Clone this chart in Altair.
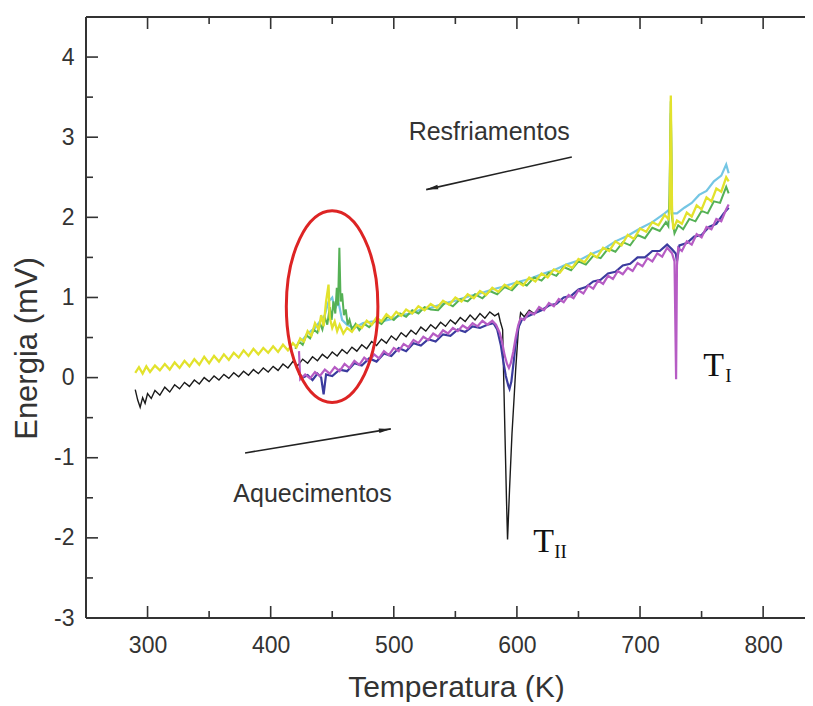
import altair as alt
import pandas as pd

# ---------------- data ----------------
X_TICKS = [300, 400, 500, 600, 700, 800]
X_MINOR = [350, 450, 550, 650, 750]
Y_TICKS = [-3, -2, -1, 0, 1, 2, 3, 4]
Y_MINOR = [-2.5, -1.5, -0.5, 0.5, 1.5, 2.5, 3.5]

# cooling (Resfriamentos) – yellow
yT = [290,293,296,299,302,306,310,314,318,322,326,330,334,338,342,346,350,354,358,362,366,370,374,378,382,386,390,394,398,402,406,410,414,418,
      421,424,427,430,433,436,439,441,443,445,447,448,450,452,454,456,459,462,
      466,470,474,478,482,486,490,494,498,502,506,510,
      515,520,525,530,535,540,545,550,555,560,565,570,575,580,585,590,595,600,605,610,615,620,625,630,635,640,645,650,655,660,665,670,675,680,685,690,695,700,705,710,715,720,
      723,724,725,726,727,730,734,738,742,746,750,754,758,762,766,770,772]
yE = [0.06,0.13,0.05,0.14,0.07,
      0.15,0.09,0.17,0.10,0.19,0.12,0.21,0.14,0.23,0.16,0.26,0.18,0.27,0.20,0.29,0.22,0.31,0.25,0.34,0.27,0.36,0.29,0.37,0.31,0.39,0.32,0.41,0.34,0.43,
      0.38,0.49,0.45,0.58,0.52,0.68,0.60,
      0.78,0.64,0.95,1.16,0.75,0.62,0.70,0.58,0.66,
      0.55,0.62,
      0.57,0.66,0.62,0.71,0.66,0.75,0.70,0.79,0.74,0.82,0.77,0.85,
      0.80,0.89,0.84,0.92,0.87,0.96,0.91,1.00,0.95,1.04,0.99,1.08,1.03,1.12,1.07,1.16,1.11,1.20,1.15,1.25,1.20,1.30,1.25,1.35,1.31,1.41,1.37,1.48,1.44,1.55,1.50,1.62,1.58,1.70,1.65,1.78,1.73,1.86,1.82,1.94,1.90,2.03,
      1.98,2.05,3.52,2.10,1.85,1.96,
      1.92,2.06,2.01,2.15,2.10,2.25,2.20,2.36,2.32,2.50,2.45]

# cooling – green
gT = [420,423,426,429,432,435,438,440,442,444,446,448,
      449.5,451,452.5,453.7,454.7,455.8,456.8,458,459.5,461,462.5,464,
      466,469,472,476,480,485,490,495,500,505,510,515,520,525,530,
      536,542,548,554,560,566,572,578,584,590,596,602,608,614,620,626,632,638,644,650,656,662,668,674,680,686,692,698,704,710,716,
      721,723,724,725,726,728,731,735,740,745,750,755,760,765,770,772]
gE = [0.36,0.45,0.41,0.53,0.49,0.60,0.56,0.68,0.60,0.75,0.66,0.88,
      0.72,0.95,0.80,1.12,0.90,1.62,0.95,1.05,0.78,0.85,0.66,0.72,
      0.60,0.67,0.59,0.67,0.63,0.71,0.67,0.76,0.72,0.80,0.76,0.84,0.80,0.88,0.85,
      0.84,0.94,0.89,0.98,0.95,1.04,0.99,1.08,1.04,1.13,1.09,1.19,1.15,1.25,1.21,1.31,1.27,1.38,1.34,1.45,1.41,1.52,1.49,1.61,1.57,1.69,1.65,1.78,1.74,1.87,1.83,
      1.94,1.89,2.30,3.45,2.00,1.80,1.90,1.85,1.98,1.95,2.08,2.05,2.20,2.18,2.38,2.30]

# cooling – light blue
cT = [425,430,436,440,444,447,450,452,455,458,462,468,475,482,490,498,506,514,522,530,
      540,550,560,570,580,590,600,610,620,630,640,650,660,670,680,690,700,710,720,
      724,725,726,730,736,742,748,754,760,766,770,772]
cE = [0.45,0.55,0.62,0.70,0.78,0.95,1.00,0.85,0.95,0.72,0.66,0.62,0.68,0.70,0.70,0.73,0.78,0.80,0.85,0.87,
      0.92,0.96,1.01,1.05,1.10,1.14,1.19,1.23,1.29,1.34,1.41,1.46,1.54,1.60,1.70,1.77,1.86,1.94,2.05,
      2.10,3.30,2.05,2.05,2.12,2.18,2.28,2.33,2.45,2.52,2.66,2.55]

# heating (Aquecimentos) – black
kT = [290,292,294,296,298,300,303,
      306,310,314,318,322,326,330,334,338,342,346,350,354,358,362,366,370,374,378,382,386,390,394,398,402,406,410,414,418,422,426,430,434,438,
      442,446,450,454,458,462,466,470,474,478,482,486,490,494,498,502,506,510,514,518,522,526,530,534,538,542,546,550,554,558,562,566,570,574,578,582,
      585,586.5,588.4,590,591.5,592.4,594,596,597.8,599,601,603,606,610,614,618,622]
kE = [-0.15,-0.28,-0.37,-0.25,-0.32,-0.20,-0.26,
      -0.16,-0.22,-0.12,-0.18,-0.09,-0.14,-0.06,-0.11,-0.03,-0.08,
      0.00,-0.05,0.02,-0.03,0.04,-0.01,0.06,0.01,0.08,0.03,
      0.10,0.05,0.12,0.07,0.14,0.09,0.17,0.12,0.20,0.15,
      0.23,0.18,0.26,0.21,0.29,0.24,0.32,0.27,0.35,0.30,
      0.38,0.33,0.41,0.36,0.45,0.40,0.48,0.43,0.52,0.47,
      0.56,0.51,0.59,0.54,0.63,0.58,0.66,0.61,0.69,0.64,
      0.72,0.67,0.75,0.70,0.78,0.72,0.80,0.74,0.82,0.77,
      0.80,0.70,0.60,-0.50,-1.50,-2.02,-1.40,-0.70,-0.23,0.10,0.55,0.81,
      0.76,0.84,0.80,0.86,0.85]

# heating – magenta
mT = [423,424,
      428,432,436,440,444,448,452,456,460,464,468,472,476,480,484,488,492,496,500,504,508,512,516,520,524,528,532,536,540,544,548,552,556,560,564,568,572,576,580,
      583,586,588,590,592,593.5,595,597,599,601,603,606,
      610,614,618,622,626,630,634,638,642,646,650,654,658,662,666,670,674,678,682,686,690,694,698,702,706,710,714,718,722,726,
      728,729.3,730,731,734,738,742,746,750,754,758,762,766,770,772]
mE = [0.33,-0.02,
      0.04,-0.01,0.07,0.02,0.10,0.05,0.13,0.08,0.17,0.12,
      0.21,0.16,0.25,0.20,0.29,0.24,0.33,0.28,0.37,0.33,
      0.42,0.38,0.47,0.43,0.51,0.47,0.55,0.51,0.59,0.55,
      0.62,0.58,0.65,0.61,0.68,0.64,0.71,0.66,0.71,
      0.66,0.56,0.44,0.28,0.17,0.12,0.18,0.32,0.50,0.65,0.74,0.72,
      0.82,0.79,0.88,0.84,0.93,0.89,0.98,0.94,1.03,0.99,
      1.09,1.05,1.15,1.11,1.21,1.17,1.27,1.23,1.33,1.29,
      1.37,1.33,1.43,1.39,1.49,1.45,1.55,1.51,1.62,1.55,
      1.45,-0.02,1.40,1.62,1.58,1.70,1.66,1.79,1.75,1.88,1.85,1.98,1.95,2.10,2.16]

# heating – dark blue
bT = [423,426,430,434,438,441,443,445,450,
      456,462,468,474,480,486,492,498,504,510,516,522,528,534,540,546,552,558,564,570,576,
      581,584,587,589,591,593,594,595.5,597,599,601,604,608,
      614,620,626,632,638,644,650,656,662,668,674,680,686,692,698,704,710,716,722,
      726,729,730,732,738,744,750,756,762,768,772]
bE = [0.05,0.00,0.03,-0.03,0.05,0.00,-0.21,0.04,0.02,
      0.10,0.08,0.18,0.15,0.24,0.20,0.30,0.27,0.37,0.33,0.43,0.40,0.48,0.45,0.54,0.52,0.60,0.57,0.64,0.62,0.66,
      0.68,0.60,0.40,0.20,0.02,-0.10,-0.14,-0.05,0.15,0.42,0.62,0.72,0.76,
      0.80,0.84,0.90,0.92,1.00,1.02,1.10,1.13,1.20,1.22,1.30,1.32,1.40,1.42,1.50,1.50,1.58,1.58,1.66,
      1.60,1.55,1.45,1.65,1.68,1.76,1.78,1.88,1.92,2.05,2.12]

SERIES = [
    ("black", kT, kE, "#1a1a1a", 1.4),
    ("blue", bT, bE, "#3b3b9e", 2.2),
    ("magenta", mT, mE, "#b65cc4", 2.2),
    ("cyan", cT, cE, "#74c6e4", 2.2),
    ("green", gT, gE, "#55b155", 2.0),
    ("yellow", yT, yE, "#e2e22c", 2.3),
]

# annotations
LABELS = ["Resfriamentos", "Aquecimentos"]
LABEL_T = [577.5, 434.0]
LABEL_E = [2.97, -1.547]
ARROW_T0 = [644.6, 379.2]
ARROW_E0 = [2.754, -0.94]
ARROW_T1 = [526.3, 497.6]
ARROW_E1 = [2.346, -0.64]
ARROW_ANG = [257.35, 80.65]
ELLIPSE_T = [449.9]
ELLIPSE_E = [0.886]
TLAB_TEXT = ["T", "II", "T", "I"]
TLAB_T = [613.2, 630.3, 751.3, 769.2]
TLAB_E = [-2.171, -2.246, 0.025, -0.05]
TLAB_SIZE = [34, 19, 34, 19]

# ---------------- chart ----------------
W, H = 719, 601
FONT = "Liberation Sans, Arial, Helvetica, sans-serif"
SERIF = "Liberation Serif, Times New Roman, serif"
INK = "#333333"

xscale = alt.Scale(domain=[250, 834], nice=False, zero=False)
yscale = alt.Scale(domain=[-3, 4.5], nice=False, zero=False)

xaxis = alt.Axis(values=X_TICKS, domain=False, ticks=False, grid=False,
                 labelFont=FONT, labelFontSize=23, labelColor=INK, labelPadding=34,
                 labelBaseline="alphabetic", labelFlush=False, labelOverlap=False,
                 labelExpr="'' + datum.value",
                 title="Temperatura (K)", titleFont=FONT, titleFontSize=30,
                 titleFontWeight="normal", titleColor=INK, titleX=370, titleY=78,
                 titleBaseline="alphabetic", titleAlign="center")
yaxis = alt.Axis(values=Y_TICKS, domain=False, ticks=False, grid=False,
                 labelFont=FONT, labelFontSize=23, labelColor=INK, labelPadding=12,
                 labelBaseline="middle", labelFlush=False, labelOverlap=False,
                 labelExpr="'' + datum.value",
                 title="Energia (mV)", titleFont=FONT, titleFontSize=31,
                 titleFontWeight="normal", titleColor=INK, titleAngle=270,
                 titleX=-50, titleY=331, titleBaseline="alphabetic", titleAlign="center")


def X(f):
    return alt.X(f, type="quantitative", scale=xscale, axis=xaxis)


def Y(f):
    return alt.Y(f, type="quantitative", scale=yscale, axis=yaxis)


layers = []

# frame (left, top, bottom)
one = pd.DataFrame({"k": [0]})
layers.append(alt.Chart(one).mark_rule(color=INK, strokeWidth=2).encode(
    x=alt.value(0), y=alt.value(0), y2=alt.value(H)))
layers.append(alt.Chart(one).mark_rule(color=INK, strokeWidth=2).encode(
    x=alt.value(0), x2=alt.value(W), y=alt.value(0)))
layers.append(alt.Chart(one).mark_rule(color=INK, strokeWidth=2).encode(
    x=alt.value(0), x2=alt.value(W), y=alt.value(H)))

# inward ticks
for vals, L in [(X_TICKS, 12), (X_MINOR, 7)]:
    d = pd.DataFrame({"T": vals})
    layers.append(alt.Chart(d).mark_rule(color=INK, strokeWidth=1.6).encode(
        x=X("T"), y=alt.value(H), y2=alt.value(H - L)))
    layers.append(alt.Chart(d).mark_rule(color=INK, strokeWidth=1.6).encode(
        x=X("T"), y=alt.value(0), y2=alt.value(L)))
for vals, L in [(Y_TICKS, 12), (Y_MINOR, 7)]:
    d = pd.DataFrame({"E": vals})
    layers.append(alt.Chart(d).mark_rule(color=INK, strokeWidth=1.6).encode(
        y=Y("E"), x=alt.value(0), x2=alt.value(L)))

# curves
for name, t, e, col, sw in SERIES:
    d = pd.DataFrame({"T": t, "E": e})
    layers.append(alt.Chart(d).mark_line(color=col, strokeWidth=sw).encode(
        x=X("T"), y=Y("E")))

# red ellipse
ELLIPSE_PATH = "M-0.478,0A0.478,1,0,1,0,0.478,0A0.478,1,0,1,0,-0.478,0Z"
layers.append(alt.Chart(pd.DataFrame({"T": ELLIPSE_T, "E": ELLIPSE_E})).mark_point(
    shape=ELLIPSE_PATH, filled=False, size=36710, color="#dd2424",
    strokeWidth=3, opacity=1).encode(x=X("T"), y=Y("E")))

# arrows
arr = pd.DataFrame({"T": ARROW_T0, "E": ARROW_E0, "T1": ARROW_T1, "E1": ARROW_E1,
                    "ang": ARROW_ANG})
layers.append(alt.Chart(arr).mark_rule(color="#222222", strokeWidth=1.6).encode(
    x=X("T"), x2=alt.X2("T1"), y=Y("E"), y2=alt.Y2("E1")))
HEAD = "M0,0L0.3,1.6L-0.3,1.6Z"
layers.append(alt.Chart(arr).mark_point(shape=HEAD, filled=True, size=225,
                                        color="#222222", opacity=1).encode(
    x=X("T1"), y=Y("E1"), angle=alt.Angle("ang:Q", scale=None)))

# annotation texts
lab = pd.DataFrame({"T": LABEL_T, "E": LABEL_E, "txt": LABELS})
layers.append(alt.Chart(lab).mark_text(font=FONT, fontSize=25, color=INK,
                                       align="center", baseline="alphabetic").encode(
    x=X("T"), y=Y("E"), text="txt:N"))

tl = pd.DataFrame({"T": TLAB_T, "E": TLAB_E, "txt": TLAB_TEXT, "fs": TLAB_SIZE})
layers.append(alt.Chart(tl).mark_text(font=SERIF, color="#111111",
                                      align="left", baseline="alphabetic").encode(
    x=X("T"), y=Y("E"), text="txt:N", size=alt.Size("fs:Q", scale=None)))

chart = alt.layer(*layers).properties(
    width=W, height=H,
    padding={"left": 78, "top": 9, "right": 0, "bottom": 84},
    autosize=alt.AutoSizeParams(type="none"),
).configure_view(stroke=None)

chart.save("out.html", embed_options={"renderer": "svg", "actions": False})
